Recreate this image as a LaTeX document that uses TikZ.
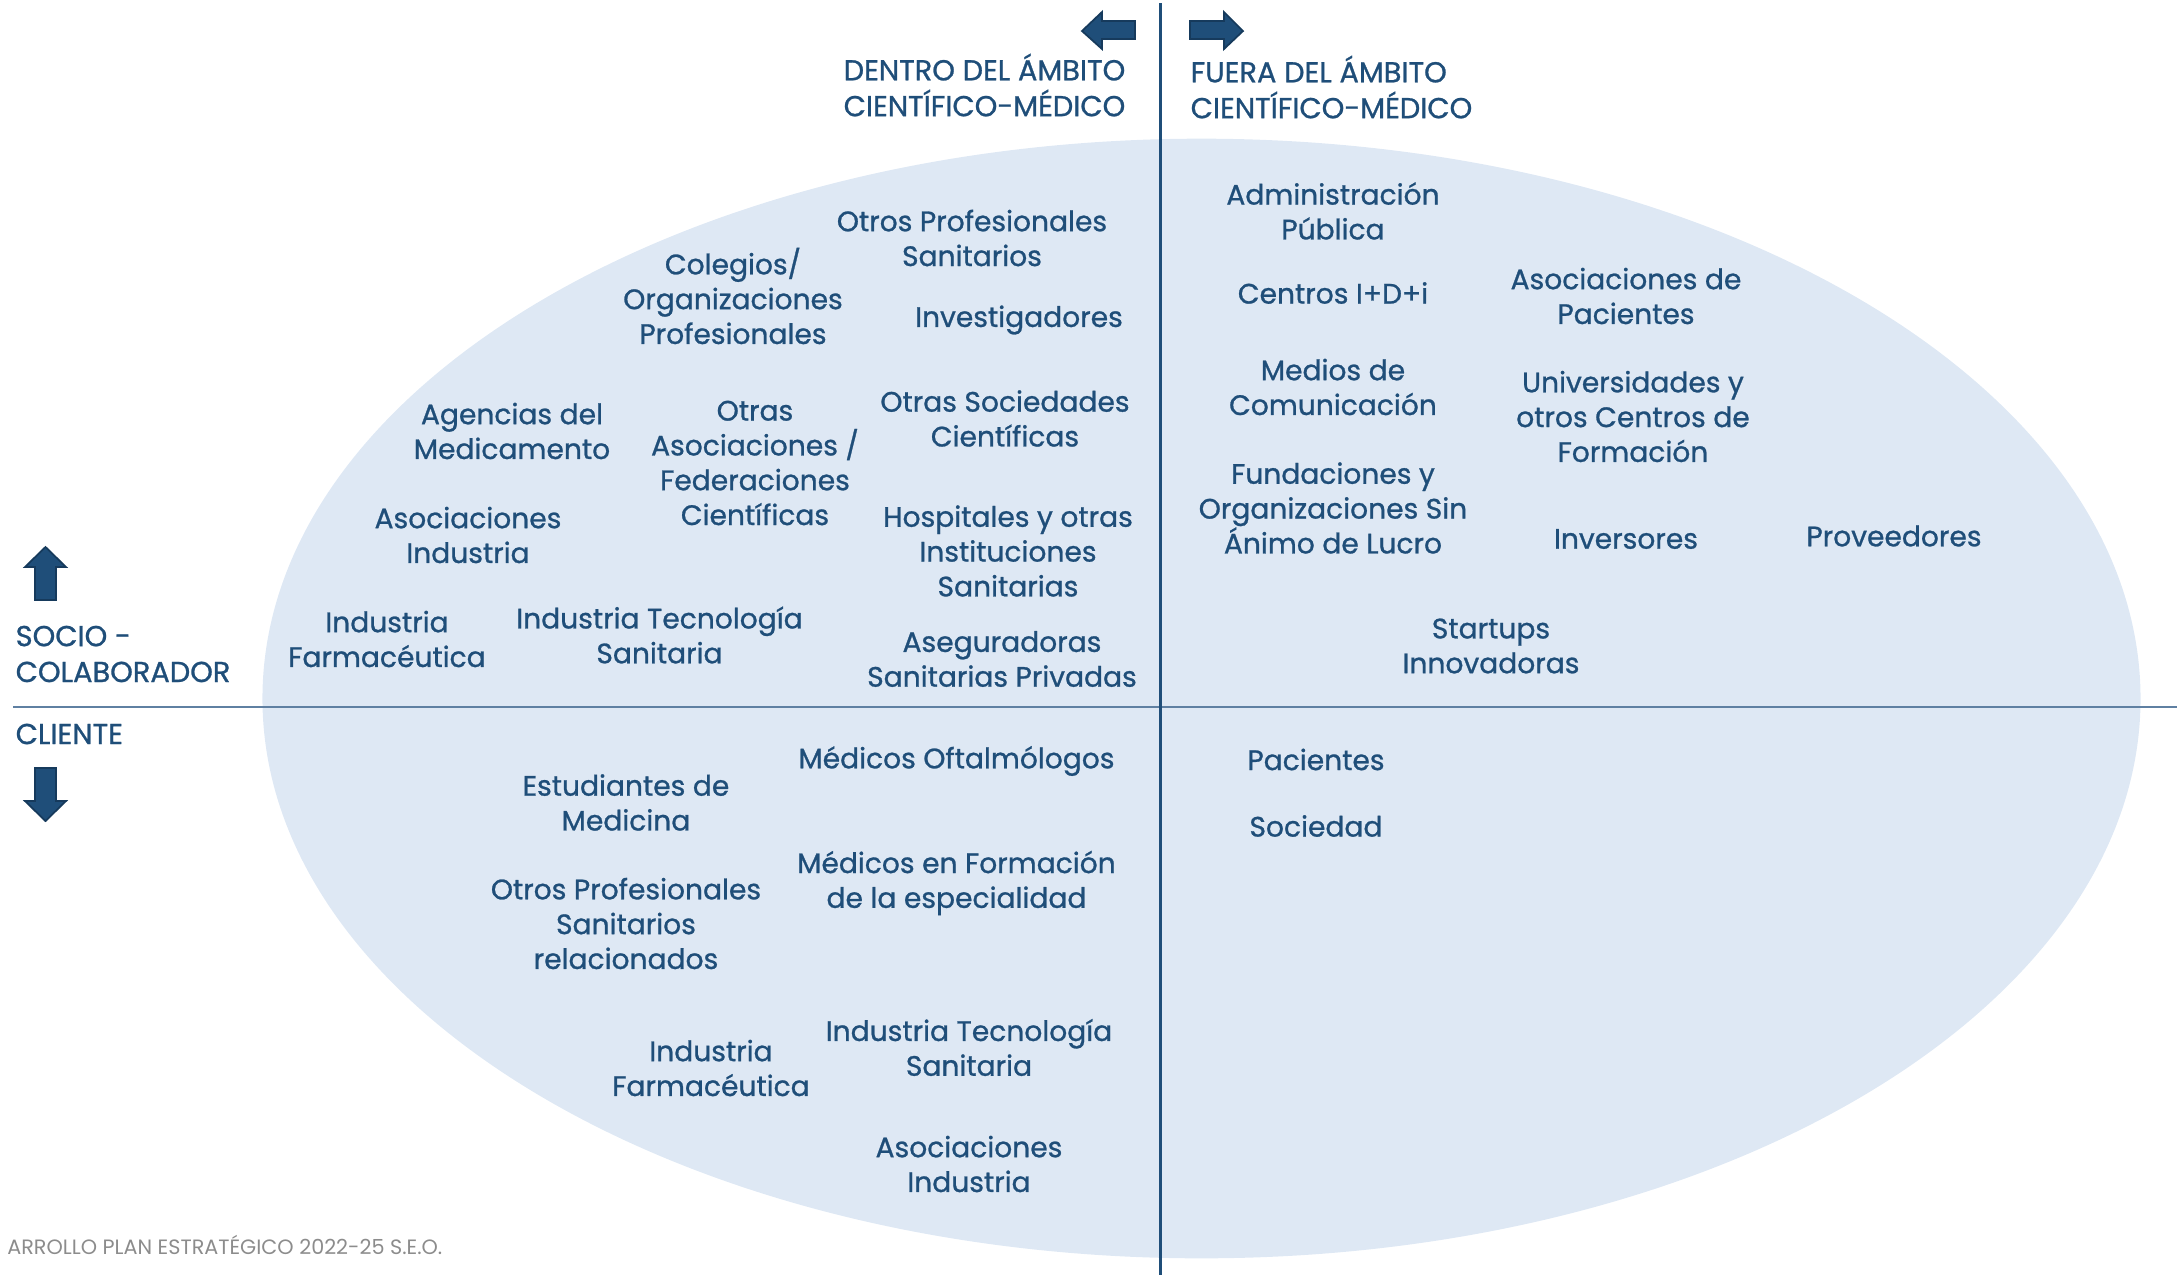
\documentclass[tikz,border=0pt]{standalone}
\usepackage{fontspec}
\setmainfont{Poppins}[BoldFont={Poppins}, BoldFeatures={FakeBold=0.9}]
\begin{document}
\definecolor{navy}{HTML}{1F4E79}
\definecolor{navyedge}{HTML}{163A5C}
\definecolor{ovalfill}{HTML}{DEE8F4}
\definecolor{axisline}{HTML}{5F80A2}
\definecolor{footgray}{HTML}{8C8C8C}
\tikzset{
  lbl/.style={text=navy, align=center, inner sep=0pt,
    font=\fontsize{8}{9.9}\selectfont\bfseries},
  hdr/.style={text=navy, inner sep=0pt,
    font=\fontsize{8.2}{10.2}\selectfont\bfseries},
  blockarrow/.style={fill=navy, draw=navyedge, line width=0.5pt, line join=miter}
}
\begin{tikzpicture}[x=0.01cm, y=-0.01cm]
\useasboundingbox (0,0) rectangle (2177,1275);

% stakeholder oval
\fill[ovalfill] (1201.5,698.5) ellipse [x radius=9.385cm, y radius=5.595cm];

% axes
\draw[axisline, line width=0.6pt] (13,706.7) coordinate (hL) -- (2177,706.7) coordinate (hR);
\draw[navy, line width=0.6pt] (1160.5,3) coordinate (vT) -- (1160.5,1275) coordinate (vB);

% direction arrows
\draw[blockarrow] (1082,31) -- (1102,12) -- (1102,21) -- (1135,21) -- (1135,39) -- (1102,39) -- (1102,49) -- cycle;
\draw[blockarrow] (1190,21) -- (1224,21) -- (1224,12) -- (1243,31) -- (1224,49) -- (1224,39) -- (1190,39) -- cycle;
\draw[blockarrow] (45.5,547) -- (66,567) -- (56,567) -- (56,600) -- (35,600) -- (35,567) -- (25,567) -- cycle;
\draw[blockarrow] (35,768) -- (56,768) -- (56,801) -- (66,801) -- (45.5,821) -- (25,801) -- (35,801) -- cycle;

% axis headings
\node[hdr, anchor=east, align=right] (dentro) at (1126,85) {DENTRO DEL ÁMBITO\\CIENTÍFICO-MÉDICO};
\node[hdr, anchor=west, align=left] (fuera) at (1190,87) {FUERA DEL ÁMBITO\\CIENTÍFICO-MÉDICO};
\node[hdr, anchor=west, align=left] (socio) at (15,654) {SOCIO -\\COLABORADOR};
\node[hdr, anchor=west, align=left] (cliente) at (15,734) {CLIENTE};

% partners inside the scientific-medical field
\node[lbl] (otrosprof) at (972,238) {Otros Profesionales\\Sanitarios};
\node[lbl] (colegios) at (733,296) {Colegios/\\Organizaciones\\Profesionales};
\node[lbl] (investig) at (1019,320) {Investigadores};
\node[lbl] (agencias) at (512,431) {Agencias del\\Medicamento};
\node[lbl] (otrasasoc) at (755,463) {Otras\\Asociaciones /\\Federaciones\\Científicas};
\node[lbl] (otrassoc) at (1005,418.5) {Otras Sociedades\\Científicas};
\node[lbl] (asocind) at (468,535) {Asociaciones\\Industria};
\node[lbl] (hospitales) at (1008,551) {Hospitales y otras\\Instituciones\\Sanitarias};
\node[lbl] (farma) at (387,639) {Industria\\Farmacéutica};
\node[lbl] (tecno) at (659.5,635) {Industria Tecnología\\Sanitaria};
\node[lbl] (asegur) at (1002,659) {Aseguradoras\\Sanitarias Privadas};

% partners outside the scientific-medical field
\node[lbl] (admin) at (1333,211) {Administración\\Pública};
\node[lbl] (centros) at (1333,293) {Centros I+D+i};
\node[lbl] (asocpac) at (1626,296) {Asociaciones de\\Pacientes};
\node[lbl] (medios) at (1333,387) {Medios de\\Comunicación};
\node[lbl] (univ) at (1633,416.5) {Universidades y\\otros Centros de\\Formación};
\node[lbl] (fundac) at (1333,508) {Fundaciones y\\Organizaciones Sin\\Ánimo de Lucro};
\node[lbl] (invers) at (1626,539) {Inversores};
\node[lbl] (provee) at (1894,536) {Proveedores};
\node[lbl] (startups) at (1491,646) {Startups\\Innovadoras};

% clients inside the scientific-medical field
\node[lbl] (oftalm) at (956.5,761) {Médicos Oftalmólogos};
\node[lbl] (estud) at (626,802.5) {Estudiantes de\\Medicina};
\node[lbl] (otrosrel) at (626,923.5) {Otros Profesionales\\Sanitarios\\relacionados};
\node[lbl] (mir) at (956.5,883) {Médicos en Formación\\de la especialidad};
\node[lbl] (farma2) at (711,1068) {Industria\\Farmacéutica};
\node[lbl] (tecno2) at (969,1047.5) {Industria Tecnología\\Sanitaria};
\node[lbl] (asocind2) at (969,1164) {Asociaciones\\Industria};

% clients outside the scientific-medical field
\node[lbl] (pacientes) at (1316,759.5) {Pacientes};
\node[lbl] (sociedad) at (1316,826) {Sociedad};

% footer
\node[text=footgray, anchor=east, inner sep=0pt, font=\fontsize{5.9}{7}\selectfont] (footer) at (443,1245) {ARROLLO PLAN ESTRATÉGICO 2022-25 S.E.O.};
\end{tikzpicture}
\end{document}
